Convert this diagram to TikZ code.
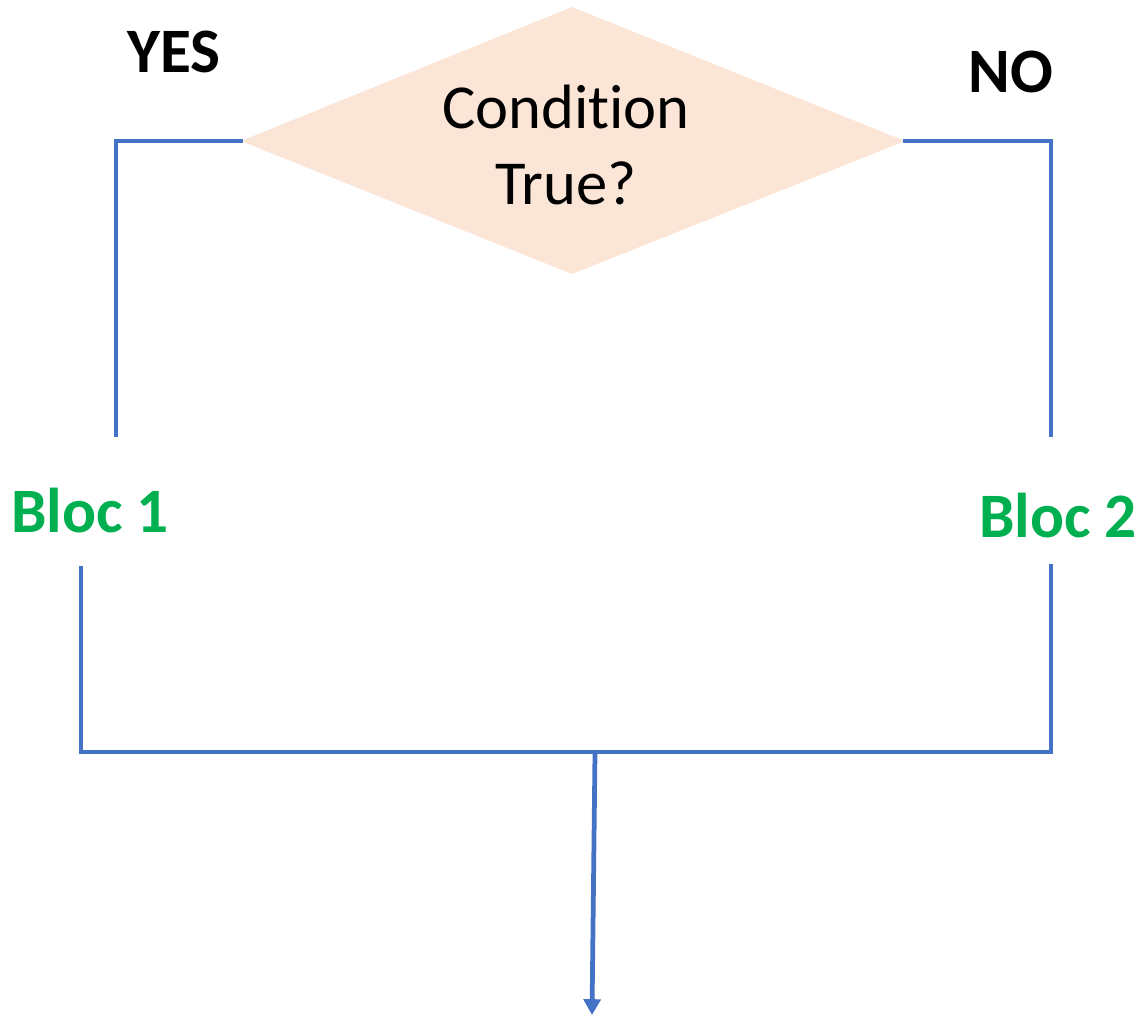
\documentclass[tikz,border=0pt]{standalone}
\usepackage{fontspec}
\setmainfont{Carlito}[Ligatures=NoCommon]
\usetikzlibrary{arrows.meta}
\definecolor{peach}{HTML}{FBE5D6}
\definecolor{lineblue}{HTML}{4472C4}
\definecolor{blocgreen}{HTML}{00B050}
\tikzset{
  conn/.style={draw=lineblue, line width=1.35pt},
  lbl/.style={font=\fontsize{18}{21}\selectfont\bfseries, inner sep=0pt},
  bloc/.style={lbl, text=blocgreen},
}
\begin{document}
\begin{tikzpicture}[x=0.01cm, y=-0.01cm]
\useasboundingbox (0,0) rectangle (1143,1017);
% diamond
\coordinate (dtop) at (572,7);
\coordinate (dleft) at (241,141);
\coordinate (dright) at (905,141);
\coordinate (dbot) at (572,274);
\fill[peach] (dtop) -- (dright) -- (dbot) -- (dleft) -- cycle;
\node[align=center, font=\fontsize{17.8}{21.5}\selectfont, inner sep=0pt] (cond) at (566,145) {Condition\\True?};
% labels
\node[lbl] (yes) at (174,52) {YES};
\node[lbl] (no) at (1011,72) {NO};
\node[bloc] (b1) at (90,511) {Bloc 1};
\node[bloc] (b2) at (1058,516) {Bloc 2};
% branch coordinates
\coordinate (l1) at (116,435);
\coordinate (r1) at (1051,435);
\coordinate (l2) at (81,566);
\coordinate (r2) at (1051,564);
\coordinate (jl) at (81,752);
\coordinate (jr) at (1051,752);
\coordinate (m) at (595,752);
\coordinate (end) at (592,1015);
% connectors
\draw[conn, line cap=rect] (dleft) -- (116,141) -- (l1);
\draw[conn, line cap=rect] (dright) -- (1051,141) -- (r1);
\draw[conn] (l2) -- (jl) -- (jr) -- (r2);
\draw[conn, -{Triangle[width=4.8pt, length=4.5pt]}] (m) -- (end);
\end{tikzpicture}
\end{document}
